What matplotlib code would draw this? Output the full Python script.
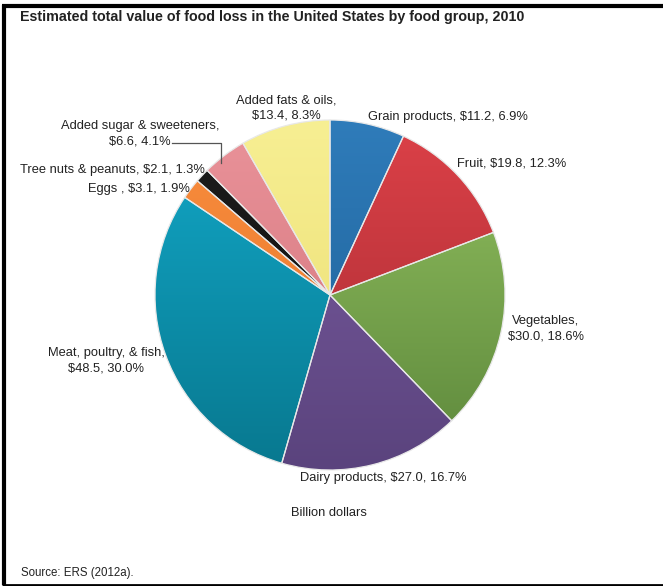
import matplotlib.pyplot as plt
import numpy as np
from matplotlib.colors import LinearSegmentedColormap

plt.rcParams['font.family'] = ['Liberation Sans', 'DejaVu Sans']

# food loss by group, 2010 (billion dollars and share of total)
groups = ["Grain products", "Fruit", "Vegetables", "Dairy products",
          "Meat, poultry, & fish", "Eggs ", "Tree nuts & peanuts",
          "Added sugar & sweeteners", "Added fats & oils"]
dollars = [11.2, 19.8, 30.0, 27.0, 48.5, 3.1, 2.1, 6.6, 13.4]
shares = [6.9, 12.3, 18.6, 16.7, 30.0, 1.9, 1.3, 4.1, 8.3]

# light (top) -> dark (bottom) shade for each slice
shades = [("#2f7cba", "#1b5c92"), ("#dc4148", "#a42a31"), ("#93c160", "#5c873b"),
          ("#7d5ea3", "#5a437d"), ("#12a8c8", "#08788f"), ("#f98e3e", "#e6732a"),
          ("#1e1e1e", "#0a0a0a"), ("#ea939a", "#cf7078"), ("#f7ef93", "#eadc6e")]

# where each label sits (pixels from top-left), alignment, line break or not
label_pos = [(368, 117, 'left', False), (457, 163, 'left', False),
             (546, 329, 'center', True), (300, 478, 'left', False),
             (106, 361, 'center', True), (190, 189, 'right', False),
             (205, 170, 'right', False), (140, 134, 'center', True),
             (286, 108, 'center', True)]

W, H = 663, 586
cx, cy, r = 330, 295, 175

fig = plt.figure(figsize=(W / 100, H / 100), dpi=100)
ax = fig.add_axes([0, 0, 1, 1])

# y axis runs downward, so "clockwise from the top" is counterclock in data terms
wedges, _ = ax.pie(shares, center=(cx, cy), radius=r, startangle=-90,
                   counterclock=True,
                   wedgeprops=dict(facecolor='none', edgecolor='#e8e8e8',
                                   linewidth=0.9, zorder=3))

grad = np.linspace(0, 1, 256).reshape(-1, 1)
for w, (c1, c2) in zip(wedges, shades):
    cmap = LinearSegmentedColormap.from_list('s', [c1, c2])
    im = ax.imshow(grad, cmap=cmap, origin='upper', aspect='auto',
                   extent=(cx - r, cx + r, cy + r, cy - r), zorder=2)
    im.set_clip_path(w)

for name, d, p, (x, y, ha, brk) in zip(groups, dollars, shares, label_pos):
    sep = ",\n" if brk else ", "
    ax.text(x, y, "{0}{1}${2:.1f}, {3:.1f}%".format(name, sep, d, p),
            ha=ha, va='center', fontsize=9.3, color='#222222',
            multialignment='center', linespacing=1.4)

# leader line for the sugar slice
ax.plot([172, 221, 221], [143, 143, 163], color='#555555', lw=0.9, zorder=4)

ax.text(20, 17, "Estimated total value of food loss in the United States by food group, 2010",
        ha='left', va='center', fontsize=10.3, fontweight='bold', color='#222222')
ax.text(291, 513, "Billion dollars", ha='left', va='center', fontsize=9.3, color='#222222')
ax.text(21, 573, "Source: ERS (2012a).", ha='left', va='center', fontsize=8.3, color='#222222')

# frame on left, top and bottom
ax.plot([3.5, 3.5], [5, 585], color='black', lw=3, solid_capstyle='butt')
ax.plot([2, W], [5.5, 5.5], color='black', lw=3, solid_capstyle='butt')
ax.plot([2, W], [584.5, 584.5], color='black', lw=2, solid_capstyle='butt')

ax.set_xlim(0, W)
ax.set_ylim(H, 0)
ax.axis('off')

fig.savefig('out.png', dpi=100)
